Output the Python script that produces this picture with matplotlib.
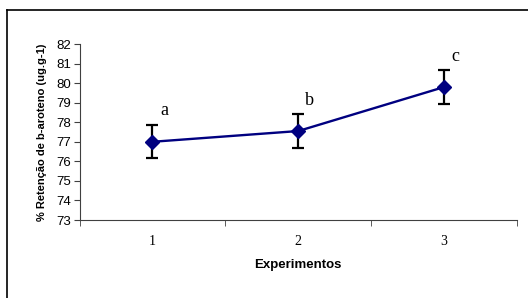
import matplotlib.pyplot as plt
from matplotlib.lines import Line2D

experimentos = [1, 2, 3]
retencao = [77.0, 77.55, 79.8]
erro = [0.85, 0.85, 0.85]
letras = ["a", "b", "c"]
y_ticks = list(range(73, 83))

fig = plt.figure(figsize=(5.28, 2.98), dpi=100)
ax = fig.add_axes([0.1506, 0.2617, 0.8286, 0.5906])

ax.errorbar(experimentos, retencao, yerr=erro, fmt="none", ecolor="black",
            elinewidth=1.6, capsize=4.5, capthick=1.6, zorder=2)
ax.plot(experimentos, retencao, color="#000080", lw=1.7, marker="D", ms=7,
        mfc="#000080", mec="#000080", zorder=3)

# letras de significancia
for x, y, e, l in zip(experimentos, retencao, erro, letras):
    ax.text(x + 0.08, y + e + 0.3, l, fontsize=13, family="Liberation Serif",
            ha="center", va="bottom")

ax.set_xlim(0.5, 3.5)
ax.set_ylim(73, 82)
ax.set_yticks(y_ticks)
ax.set_yticklabels([str(v) for v in y_ticks], fontsize=9.5, family="Liberation Sans")
ax.set_xticks(experimentos)
ax.set_xticklabels([str(v) for v in experimentos], fontsize=10, family="Liberation Serif")
ax.tick_params(axis="x", which="major", length=0, pad=11)
ax.set_xticks([0.5, 1.5, 2.5, 3.5], minor=True)
ax.tick_params(axis="x", which="minor", length=4, direction="out")
ax.tick_params(axis="y", length=4, direction="out", pad=2)

for s in ["top", "right"]:
    ax.spines[s].set_visible(False)
ax.spines["left"].set_color("#404040")
ax.spines["bottom"].set_color("#404040")
ax.tick_params(colors="#404040", which="both", labelcolor="black")

ax.set_xlabel("Experimentos", fontsize=9.5, fontweight="bold", family="Liberation Sans", labelpad=8)
ax.set_ylabel("% Retenção de b-aroteno (ug.g-1)", fontsize=8, fontweight="bold",
              family="Liberation Sans", labelpad=7)

# moldura da area do grafico
fig.add_artist(Line2D([7 / 528, 1.05], [1 - 10 / 298, 1 - 10 / 298], color="black", lw=1.2))
fig.add_artist(Line2D([7 / 528, 7 / 528], [-0.05, 1 - 10 / 298], color="black", lw=1.2))

fig.savefig("out.png", dpi=100)
